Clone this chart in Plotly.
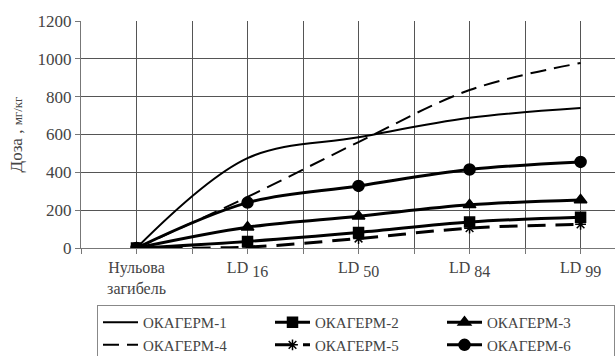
import plotly.graph_objects as go

categories = ["Нульова<br>загибель",
              "LD <sub><span style='font-size:16px'>16</span></sub>",
              "LD <sub><span style='font-size:16px'>50</span></sub>",
              "LD <sub><span style='font-size:16px'>84</span></sub>",
              "LD <sub><span style='font-size:16px'>99</span></sub>"]
okagerm1 = [0, 475, 585, 688, 740]
okagerm2 = [0, 35, 82, 137, 163]
okagerm3 = [0, 110, 168, 228, 254]
okagerm4 = [0, 270, 560, 835, 978]
okagerm5 = [0, 5, 50, 105, 125]
okagerm6 = [0, 240, 328, 415, 455]
names = ["ОКАГЕРМ-1", "ОКАГЕРМ-2", "ОКАГЕРМ-3", "ОКАГЕРМ-4", "ОКАГЕРМ-5", "ОКАГЕРМ-6"]
y_ticks = [0, 200, 400, 600, 800, 1000, 1200]

xs = list(range(len(categories)))
fig = go.Figure()

def add(y, name, width, dash, symbol, size, shape):
    fig.add_trace(go.Scatter(
        x=xs, y=y, name=name, mode="lines+markers" if symbol else "lines",
        line=dict(color="black", width=width, dash=dash, shape=shape, smoothing=1.0),
        marker=dict(symbol=symbol or "circle", size=size, color="black",
                    line=dict(color="black", width=1.5)),
    ))

add(okagerm1, names[0], 2, "solid", None, 0, "spline")
add(okagerm2, names[1], 3, "solid", "square", 10, "spline")
add(okagerm3, names[2], 3, "solid", "triangle-up", 11, "spline")
add(okagerm4, names[3], 2, "16px,8px", None, 0, "spline")
add(okagerm5, names[4], 3, "18px,10px", "asterisk-open", 9, "spline")
add(okagerm6, names[5], 3, "solid", "circle", 11, "spline")

font_family = "Times New Roman, DejaVu Serif, serif"
fig.update_layout(
    width=615, height=356,
    margin=dict(l=81, r=0, t=21, b=108),
    paper_bgcolor="white", plot_bgcolor="white",
    font=dict(family=font_family, color="#444", size=15),
    showlegend=True,
    legend=dict(
        orientation="h", x=0.03, y=0.143, xanchor="left", yanchor="top", yref="container",
        bordercolor="#888", borderwidth=1, font=dict(family=font_family, size=15, color="#444"),
        entrywidth=122, entrywidthmode="pixels", tracegroupgap=0, itemwidth=35,
    ),
    xaxis=dict(
        range=[-0.5, 4.31], tickvals=xs, ticktext=categories,
        showgrid=True, gridcolor="#555", gridwidth=1,
        ticks="outside", ticklen=5, tickcolor="#777",
        minor=dict(tickvals=[-0.5, 0.5, 1.5, 2.5, 3.5], showgrid=True, gridcolor="#555",
                   ticks="outside", ticklen=5, tickcolor="#777"),
        showline=True, linecolor="#777", zeroline=False,
        tickfont=dict(family=font_family, size=16, color="#444"),
    ),
    yaxis=dict(
        range=[0, 1200], tickvals=y_ticks,
        showgrid=True, gridcolor="#555", gridwidth=1,
        ticks="outside", ticklen=5, tickcolor="#777",
        showline=True, linecolor="#777", zeroline=False,
        tickfont=dict(family=font_family, size=17, color="#444"),
        title=dict(text="Доза , <span style='font-size:13px'>мг/кг</span>", standoff=10,
                   font=dict(family=font_family, size=17, color="#444")),
    ),
)

fig.write_html("out.html")
